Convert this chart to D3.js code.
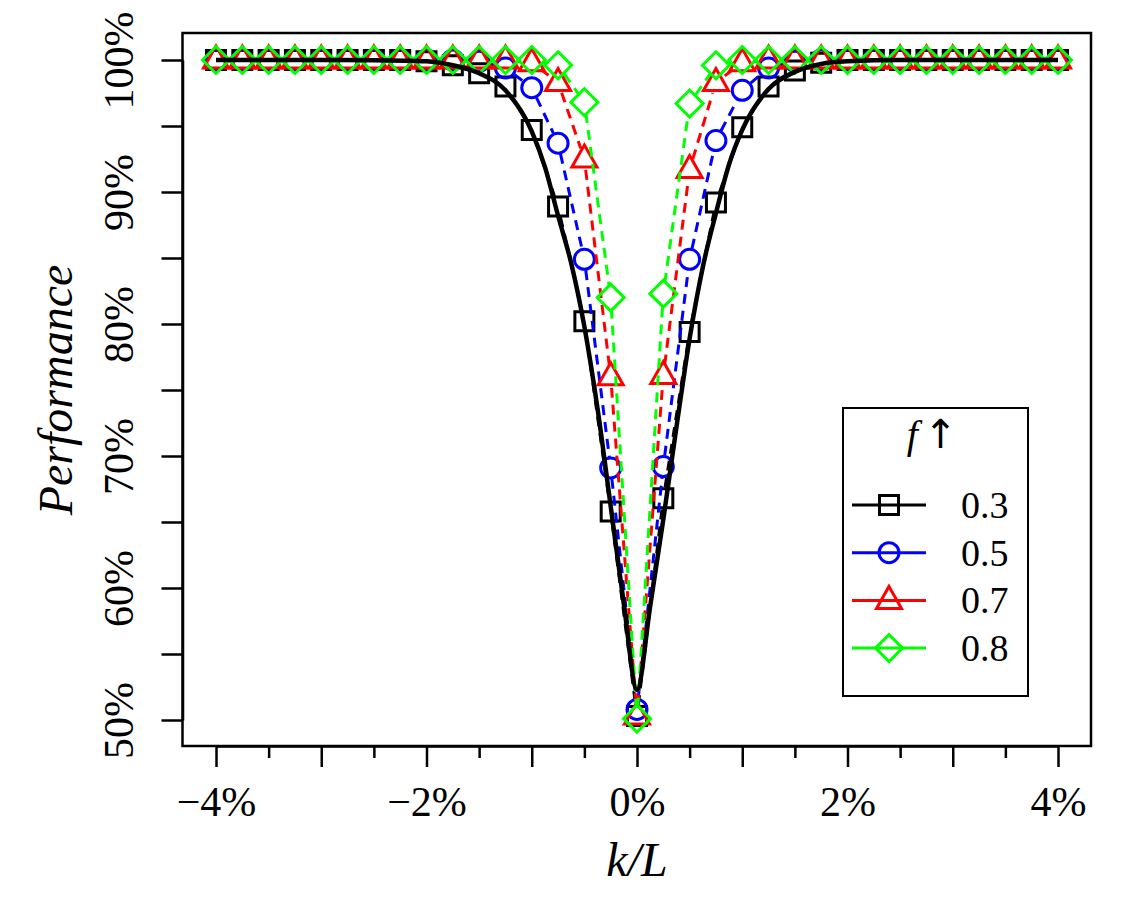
<!DOCTYPE html>
<html>
<head>
<meta charset="utf-8">
<script src="https://cdn.jsdelivr.net/npm/d3@7"></script>
<style>
  body { margin: 0; background: #fff; }
  text { font-family: "Liberation Serif", "Times New Roman", serif; }
</style>
</head>
<body>
<div class="chart"></div>
<script>
// Data
const kL = [-4, -3.75, -3.5, -3.25, -3, -2.75, -2.5, -2.25, -2, -1.75, -1.5, -1.25, -1, -0.75, -0.5, -0.25,
            0, 0.25, 0.5, 0.75, 1, 1.25, 1.5, 1.75, 2, 2.25, 2.5, 2.75, 3, 3.25, 3.5, 3.75, 4];

const perf03 = [100, 100, 100, 100, 100, 100, 100, 100, 99.9, 99.6, 99.0, 98.0, 94.7, 88.9, 80.2, 65.8,
                50.3, 66.8, 79.4, 89.2, 94.9, 98.0, 99.2, 99.8, 100, 100, 100, 100, 100, 100, 100, 100, 100];
const perf05 = [100, 100, 100, 100, 100, 100, 100, 100, 100, 100, 99.9, 99.4, 97.9, 93.7, 84.9, 69.1,
                50.8, 69.2, 84.9, 93.9, 97.7, 99.4, 99.9, 100, 100, 100, 100, 100, 100, 100, 100, 100, 100];
const perf07 = [100, 100, 100, 100, 100, 100, 100, 100, 100, 100, 100, 100, 99.8, 98.3, 92.5, 76.0,
                50.3, 76.1, 91.7, 98.3, 99.8, 100, 100, 100, 100, 100, 100, 100, 100, 100, 100, 100, 100];
const perf08 = [100, 100, 100, 100, 100, 100, 100, 100, 100, 100, 100, 100, 100, 99.6, 96.8, 82.0,
                50.1, 82.3, 96.7, 99.6, 100, 100, 100, 100, 100, 100, 100, 100, 100, 100, 100, 100, 100];

// solid black curve
const theoryX = [-4, -3, -2.5, -2, -1.75, -1.5, -1.25, -1, -0.875, -0.75, -0.625, -0.5, -0.375, -0.25, -0.125,
                 0, 0.125, 0.25, 0.375, 0.5, 0.625, 0.75, 0.875, 1, 1.25, 1.5, 1.75, 2, 2.5, 3, 4];
const theoryY = [100, 100, 99.98, 99.9, 99.6, 99.0, 97.7, 94.6, 91.9, 88.2, 84.6, 79.8, 73.6, 66.2, 58.8,
                 52.3, 58.6, 65.2, 72.2, 78.9, 84.3, 88.4, 92.1, 94.7, 97.8, 99.1, 99.7, 99.9, 100, 100, 100];

const yTicks = [50, 55, 60, 65, 70, 75, 80, 85, 90, 95, 100];
const yLabels = [50, 60, 70, 80, 90, 100];
const xTicks = [-4, -3.5, -3, -2.5, -2, -1.5, -1, -0.5, 0, 0.5, 1, 1.5, 2, 2.5, 3, 3.5, 4];
const xLabels = [-4, -2, 0, 2, 4];
const fLevels = ["0.3", "0.5", "0.7", "0.8"];

// Layout
const W = 1125, H = 900;
const box = { left: 182.5, top: 33, right: 1091, bottom: 746 };

const x = d3.scaleLinear().domain([-4, 4]).range([216, 1058]);
const y = d3.scaleLinear().domain([50, 100]).range([720, 60]);

const series = [
  { vals: perf03, color: "#000000", shape: "square" },
  { vals: perf05, color: "#0000ff", shape: "circle" },
  { vals: perf07, color: "#ff0000", shape: "triangle" },
  { vals: perf08, color: "#00ff00", shape: "diamond" }
];

function markerPath(name) {
  if (name === "square") return "M-9.5,-9.5h19v19h-19z";
  if (name === "circle") return d3.symbol(d3.symbolCircle, Math.PI * 100)();
  if (name === "triangle") return "M0,-14L12.5,8H-12.5Z";
  return "M0,-13.5L13.5,0L0,13.5L-13.5,0Z";
}

// segments between points, shortened so they stop short of the markers
function segments(vals) {
  const out = [];
  const g = 11;
  for (let i = 0; i < vals.length - 1; i++) {
    const x1 = x(kL[i]), y1 = y(vals[i]), x2 = x(kL[i + 1]), y2 = y(vals[i + 1]);
    const dx = x2 - x1, dy = y2 - y1, len = Math.hypot(dx, dy);
    if (len > 2 * g) out.push([x1 + dx * g / len, y1 + dy * g / len, x2 - dx * g / len, y2 - dy * g / len]);
  }
  return out;
}

const svg = d3.select(".chart").append("svg")
    .attr("width", W)
    .attr("height", H);

// plot box
svg.append("rect")
    .attr("x", box.left).attr("y", box.top)
    .attr("width", box.right - box.left).attr("height", box.bottom - box.top)
    .attr("fill", "none").attr("stroke", "#000").attr("stroke-width", 2.5);

// y axis
const gy = svg.append("g")
    .attr("transform", "translate(" + box.left + ",0)")
    .call(d3.axisLeft(y).tickValues(yTicks).tickSize(21).tickSizeOuter(0)
      .tickFormat(d => yLabels.includes(d) ? d + "%" : ""));
gy.attr("font-family", null).attr("font-size", null);
gy.select(".domain").attr("stroke-width", 2.5);
gy.selectAll(".tick line").attr("stroke-width", 2.5);
gy.selectAll(".tick text")
    .attr("x", 0).attr("dy", null)
    .attr("text-anchor", "middle")
    .attr("transform", "translate(-50,0) rotate(-90)")
    .style("font-size", "42px")
    .attr("fill", "#000");

// x axis
const gx = svg.append("g")
    .attr("transform", "translate(0," + box.bottom + ")")
    .call(d3.axisBottom(x).tickValues(xTicks).tickSize(21).tickSizeOuter(0)
      .tickFormat(d => xLabels.includes(d) ? (d < 0 ? "\u2212" + Math.abs(d) : d) + "%" : ""));
gx.attr("font-family", null).attr("font-size", null);
gx.select(".domain").attr("stroke-width", 2.5);
gx.selectAll(".tick line")
    .attr("stroke-width", 2.5)
    .attr("y2", d => Number.isInteger(d) ? 21 : 12);
gx.selectAll(".tick text")
    .attr("y", 70).attr("dy", null)
    .style("font-size", "42px")
    .attr("fill", "#000");

// axis titles
svg.append("text")
    .attr("x", 637).attr("y", 876)
    .attr("text-anchor", "middle")
    .style("font-size", "48px").style("font-style", "italic")
    .text("k/L");

svg.append("text")
    .attr("transform", "translate(72,390) rotate(-90)")
    .attr("text-anchor", "middle")
    .style("font-size", "48px").style("font-style", "italic")
    .text("Performance");

// series: dashed connecting lines and hollow markers
series.forEach(s => {
  svg.append("g").selectAll("line")
      .data(segments(s.vals))
      .enter().append("line")
      .attr("x1", d => d[0]).attr("y1", d => d[1])
      .attr("x2", d => d[2]).attr("y2", d => d[3])
      .attr("stroke", s.color)
      .attr("stroke-width", 3)
      .attr("stroke-dasharray", "10,7");

  svg.append("g").selectAll("path")
      .data(s.vals)
      .enter().append("path")
      .attr("d", markerPath(s.shape))
      .attr("transform", (d, i) => "translate(" + x(kL[i]) + "," + y(d) + ")")
      .attr("fill", "none")
      .attr("stroke", s.color)
      .attr("stroke-width", 3);
});

// solid black curve on top
svg.append("path")
    .datum(theoryX.map((d, i) => [d, theoryY[i]]))
    .attr("d", d3.line().x(d => x(d[0])).y(d => y(d[1])).curve(d3.curveMonotoneX))
    .attr("fill", "none")
    .attr("stroke", "#000")
    .attr("stroke-width", 4.5)
    .attr("stroke-linejoin", "round");

// legend
const lg = svg.append("g");
lg.append("rect")
    .attr("x", 843).attr("y", 408).attr("width", 185).attr("height", 288)
    .attr("fill", "#fff").attr("stroke", "#000").attr("stroke-width", 2);

const title = lg.append("text")
    .attr("x", 932).attr("y", 448)
    .attr("text-anchor", "middle")
    .style("font-size", "40px");
title.append("tspan").style("font-style", "italic").text("f");
title.append("tspan").attr("dx", 6)
    .style("font-family", "'DejaVu Sans', sans-serif")
    .style("font-size", "40px")
    .text("\u2191");

const row = lg.selectAll(".row")
    .data(series)
    .enter().append("g")
    .attr("class", "row")
    .attr("transform", (d, i) => "translate(0," + (505 + i * 47.7) + ")");

row.append("line")
    .attr("x1", 852).attr("x2", 926)
    .attr("stroke", d => d.color).attr("stroke-width", 3);

row.append("path")
    .attr("d", d => markerPath(d.shape))
    .attr("transform", "translate(889,0)")
    .attr("fill", "none")
    .attr("stroke", d => d.color)
    .attr("stroke-width", 3);

row.append("text")
    .attr("x", 961).attr("y", 13)
    .style("font-size", "38px")
    .text((d, i) => fLevels[i]);
</script>
</body>
</html>
